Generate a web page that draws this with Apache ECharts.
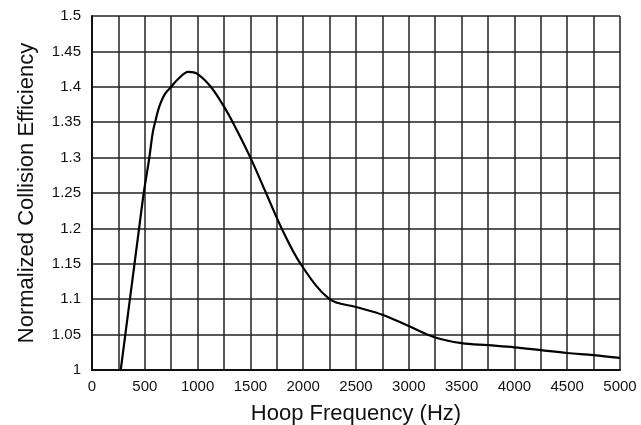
<!DOCTYPE html>
<html>
<head>
<meta charset="utf-8">
<script src="https://cdn.jsdelivr.net/npm/echarts@6/dist/echarts.min.js"></script>
<style>html,body{margin:0;padding:0;background:#fff;}#c{width:641px;height:425px;}</style>
</head>
<body>
<div id="c"></div>
<script>
var frequency = [272, 359, 446, 490, 543, 575, 606, 637, 691, 750, 808, 912, 1000, 1125, 1250, 1333, 1500, 1648, 1796, 1975, 2250, 2500, 2750, 3000, 3250, 3500, 3750, 4000, 4250, 4500, 4750, 5000];
var efficiency = [1.0, 1.10, 1.20, 1.25, 1.30, 1.335, 1.355, 1.372, 1.39, 1.40, 1.41, 1.421, 1.418, 1.40, 1.372, 1.35, 1.30, 1.25, 1.20, 1.15, 1.10, 1.089, 1.078, 1.062, 1.046, 1.038, 1.035, 1.032, 1.028, 1.024, 1.021, 1.017];
var xTitle = 'Hoop Frequency (Hz)';
var yTitle = 'Normalized Collision Efficiency';

var chart = echarts.init(document.getElementById('c'), null, {renderer: 'canvas'});
var pts = frequency.map(function (f, i) { return [f, efficiency[i]]; });
var font = 'Liberation Sans, Arial, sans-serif';
chart.setOption({
  animation: false,
  backgroundColor: '#fff',
  grid: {left: 92, right: 21, top: 16, bottom: 55, containLabel: false, outerBoundsMode: 'none'},
  xAxis: {
    type: 'value', min: 0, max: 5000, interval: 250,
    name: xTitle, nameLocation: 'middle', nameGap: 33,
    nameTextStyle: {fontFamily: font, fontSize: 22, color: '#111'},
    axisLine: {show: true, lineStyle: {color: '#111', width: 2}},
    axisTick: {show: false},
    axisLabel: {fontFamily: font, fontSize: 15, color: '#111', margin: 9,
      formatter: function (v) { return v % 500 === 0 ? String(v) : ''; }},
    splitLine: {show: true, lineStyle: {color: '#222', width: 1.5}}
  },
  yAxis: {
    type: 'value', min: 1, max: 1.5, interval: 0.05,
    name: yTitle, nameLocation: 'middle', nameGap: 54,
    nameTextStyle: {fontFamily: font, fontSize: 22, color: '#111'},
    axisLine: {show: true, lineStyle: {color: '#111', width: 2}},
    axisTick: {show: false},
    axisLabel: {fontFamily: font, fontSize: 15, color: '#111', margin: 11,
      formatter: function (v) { return String(parseFloat(v.toFixed(2))); }},
    splitLine: {show: true, lineStyle: {color: '#222', width: 1.5}}
  },
  series: [{
    type: 'line', data: pts, smooth: 0.35, symbol: 'none',
    lineStyle: {color: '#000', width: 2.2}
  }]
});
</script>
</body>
</html>
